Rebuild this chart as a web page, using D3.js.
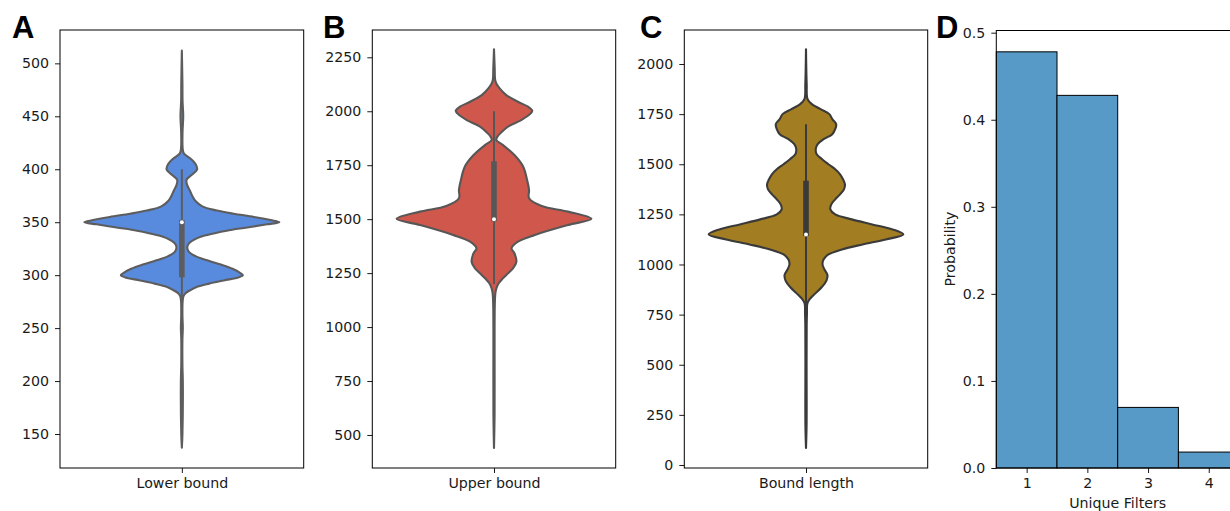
<!DOCTYPE html>
<html>
<head>
<meta charset="utf-8">
<script src="https://cdn.jsdelivr.net/npm/d3@7"></script>
<style>
  body { margin: 0; background: #fff; }
  svg { display: block; font-family: "DejaVu Sans", sans-serif; }
</style>
</head>
<body>
<div id="fig"></div>
<script>
// ---- data ----
// violin outlines: value -> relative half width (1 = widest)
const lowerVals = [137, 150, 200, 215, 240, 250, 262, 275, 280, 283, 286, 289, 292, 295, 298, 300, 302, 306, 310, 314, 318, 322, 326, 330, 335, 338, 342, 345, 348, 350, 352, 355, 358, 361, 365, 370, 375, 380, 385, 390, 395, 400, 405, 410, 415, 420, 435, 450, 465, 480, 512];
const lowerDens = [0, 0.006, 0.01, 0.006, 0.006, 0.01, 0.006, 0.008, 0.016, 0.038, 0.09, 0.157, 0.28, 0.43, 0.585, 0.626, 0.60, 0.52, 0.40, 0.26, 0.14, 0.072, 0.055, 0.072, 0.157, 0.26, 0.46, 0.67, 0.875, 1.0, 0.91, 0.74, 0.53, 0.36, 0.21, 0.14, 0.106, 0.082, 0.055, 0.048, 0.106, 0.157, 0.14, 0.09, 0.02, 0.008, 0.007, 0.014, 0.007, 0.006, 0];

const upperVals = [440, 600, 900, 1100, 1156, 1180, 1203, 1226, 1249, 1272, 1303, 1342, 1365, 1396, 1427, 1473, 1502, 1535, 1561, 1597, 1635, 1681, 1743, 1797, 1844, 1867, 1882, 1900, 1928, 1959, 1990, 2003, 2021, 2044, 2075, 2106, 2129, 2145, 2200, 2287];
const upperDens = [0, 0.006, 0.006, 0.008, 0.014, 0.025, 0.048, 0.092, 0.144, 0.195, 0.23, 0.21, 0.18, 0.246, 0.42, 0.76, 1.0, 0.76, 0.49, 0.36, 0.36, 0.34, 0.30, 0.21, 0.09, 0.024, 0.035, 0.07, 0.14, 0.28, 0.376, 0.393, 0.35, 0.246, 0.126, 0.058, 0.024, 0.012, 0.007, 0];

const lengthVals = [85, 200, 500, 700, 760, 806, 831, 856, 889, 920, 948, 975, 1000, 1025, 1050, 1075, 1100, 1125, 1150, 1175, 1200, 1225, 1250, 1275, 1300, 1325, 1350, 1375, 1400, 1425, 1450, 1475, 1500, 1525, 1550, 1575, 1600, 1625, 1650, 1675, 1700, 1725, 1750, 1775, 1800, 1825, 1900, 2073];
const lengthDens = [0, 0.006, 0.006, 0.007, 0.01, 0.014, 0.045, 0.096, 0.165, 0.21, 0.22, 0.19, 0.17, 0.18, 0.23, 0.37, 0.58, 0.82, 1.0, 0.89, 0.68, 0.47, 0.30, 0.25, 0.26, 0.30, 0.35, 0.39, 0.40, 0.38, 0.35, 0.30, 0.23, 0.165, 0.11, 0.10, 0.12, 0.18, 0.27, 0.30, 0.31, 0.27, 0.24, 0.15, 0.06, 0.016, 0.007, 0];

// inner box stats: [whisker low, q1, median, q3, whisker high]
const lowerBox = [250, 298, 350, 352, 400];
const upperBox = [1200, 1490, 1500, 1768, 2000];
const lengthBox = [750, 1142, 1150, 1418, 1700];

const violinLabels = ["Lower bound", "Upper bound", "Bound length"];
const violinColors = ["#588ade", "#d0574b", "#a27d21"];
const violinGrays = ["#5d5d5d", "#575757", "#3a3a3a"];
const lowerTicks = [150, 200, 250, 300, 350, 400, 450, 500];
const upperTicks = [500, 750, 1000, 1250, 1500, 1750, 2000, 2250];
const lengthTicks = [0, 250, 500, 750, 1000, 1250, 1500, 1750, 2000];

// histogram (panel D)
const filterCounts = [1, 2, 3, 4];
const filterProb = [0.478, 0.428, 0.0696, 0.0183];
const probTicks = [0, 0.1, 0.2, 0.3, 0.4, 0.5];

const panelLetters = ["A", "B", "C", "D"];

// ---- layout ----
const W = 1230, H = 511;
const plotTop = 30, plotBottom = 468;
const fontSize = 14.2;

const svg = d3.select("#fig").append("svg")
  .attr("width", W).attr("height", H)
  .attr("viewBox", [0, 0, W, H]);
svg.append("rect").attr("width", W).attr("height", H).attr("fill", "#fff");

const violins = [
  { vals: lowerVals, dens: lowerDens, box: lowerBox, ticks: lowerTicks, left: 60, right: 303.7, domain: [117.9, 531.5] },
  { vals: upperVals, dens: upperDens, box: upperBox, ticks: upperTicks, left: 372.3, right: 615.7, domain: [347, 2376.5] },
  { vals: lengthVals, dens: lengthDens, box: lengthBox, ticks: lengthTicks, left: 684.3, right: 927.7, domain: [-15, 2169.6] }
];

function styleAxis(g) {
  g.selectAll("text").attr("font-size", fontSize).attr("fill", "#1a1a1a")
    .attr("font-family", "DejaVu Sans");
  g.selectAll(".tick line").attr("stroke", "#000").attr("stroke-width", 0.9);
  g.select(".domain").remove();
}

violins.forEach((v, i) => {
  const x = d3.scaleLinear().domain([-0.5, 0.5]).range([v.left, v.right]);
  const y = d3.scaleLinear().domain(v.domain).range([plotBottom, plotTop]);
  const g = svg.append("g");
  const pts = v.vals.map((val, k) => ({ val, d: v.dens[k] }));

  const area = d3.area()
    .curve(d3.curveCatmullRom.alpha(0.5))
    .y(d => y(d.val))
    .x0(d => x(-0.4 * d.d))
    .x1(d => x(0.4 * d.d));

  g.append("path")
    .datum(pts)
    .attr("d", area)
    .attr("fill", violinColors[i])
    .attr("stroke", violinGrays[i])
    .attr("stroke-width", 2.1)
    .attr("stroke-linejoin", "round");

  const [wLo, q1, med, q3, wHi] = v.box;
  g.append("line")
    .attr("x1", x(0)).attr("x2", x(0))
    .attr("y1", y(wLo)).attr("y2", y(wHi))
    .attr("stroke", violinGrays[i]).attr("stroke-width", 2);
  g.append("line")
    .attr("x1", x(0)).attr("x2", x(0))
    .attr("y1", y(q1)).attr("y2", y(q3))
    .attr("stroke", violinGrays[i]).attr("stroke-width", 5.6);
  g.append("circle")
    .attr("cx", x(0)).attr("cy", y(med)).attr("r", 2)
    .attr("fill", "#fff");

  // axes
  const ya = svg.append("g")
    .attr("transform", `translate(${v.left},0)`)
    .call(d3.axisLeft(y).tickValues(v.ticks).tickFormat(d3.format("d")).tickSize(5).tickPadding(6));
  styleAxis(ya);

  const xa = svg.append("g")
    .attr("transform", `translate(0,${plotBottom})`)
    .call(d3.axisBottom(x).tickValues([0]).tickFormat(() => violinLabels[i]).tickSize(5).tickPadding(5));
  styleAxis(xa);

  svg.append("rect")
    .attr("x", v.left).attr("y", plotTop)
    .attr("width", v.right - v.left).attr("height", plotBottom - plotTop)
    .attr("fill", "none").attr("stroke", "#000").attr("stroke-width", 1);
});

// ---- panel D: histogram ----
const dLeft = 996.3;
const xh = d3.scaleLinear().domain([0.5, 4.87]).range([dLeft, dLeft + 4.37 * 60.7]);
const yh = d3.scaleLinear().domain([0, 0.5025]).range([plotBottom, 30.5]);

svg.append("g")
  .selectAll("rect")
  .data(filterCounts)
  .join("rect")
  .attr("x", d => xh(d - 0.5))
  .attr("width", d => xh(d + 0.5) - xh(d - 0.5))
  .attr("y", (d, k) => yh(filterProb[k]))
  .attr("height", (d, k) => yh(0) - yh(filterProb[k]))
  .attr("fill", "#5799c7")
  .attr("stroke", "#000")
  .attr("stroke-width", 1);

const yha = svg.append("g")
  .attr("transform", `translate(${dLeft},0)`)
  .call(d3.axisLeft(yh).tickValues(probTicks).tickFormat(d3.format(".1f")).tickSize(5).tickPadding(6));
styleAxis(yha);

const xha = svg.append("g")
  .attr("transform", `translate(0,${plotBottom})`)
  .call(d3.axisBottom(xh).tickValues(filterCounts).tickFormat(d3.format("d")).tickSize(5).tickPadding(5));
styleAxis(xha);

svg.append("rect")
  .attr("x", dLeft).attr("y", yh.range()[1])
  .attr("width", 300).attr("height", plotBottom - yh.range()[1])
  .attr("fill", "none").attr("stroke", "#000").attr("stroke-width", 1);

svg.append("text")
  .attr("x", xh(2.5))
  .attr("y", 508)
  .attr("text-anchor", "middle")
  .attr("font-size", fontSize).attr("fill", "#1a1a1a")
  .text("Unique Filters");

svg.append("text")
  .attr("transform", `translate(955,249) rotate(-90)`)
  .attr("text-anchor", "middle")
  .attr("font-size", fontSize).attr("fill", "#1a1a1a")
  .text("Probability");

// ---- panel letters ----
const letterX = [12, 323, 640, 936];
svg.append("g")
  .selectAll("text")
  .data(panelLetters)
  .join("text")
  .attr("x", (d, i) => letterX[i])
  .attr("y", 37.5)
  .attr("font-family", "Liberation Sans, Arial, sans-serif")
  .attr("font-weight", "bold")
  .attr("font-size", 31)
  .attr("fill", "#000")
  .text(d => d);
</script>
</body>
</html>
